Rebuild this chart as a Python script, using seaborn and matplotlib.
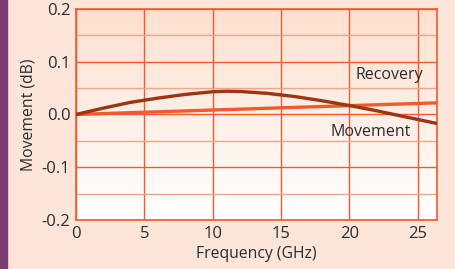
import numpy as np
import matplotlib
matplotlib.use("Agg")
import matplotlib.pyplot as plt
import seaborn as sns
from matplotlib.ticker import MultipleLocator
from matplotlib.patches import Rectangle

# values
freq_ghz = [0, 2, 4, 6, 8, 10, 11, 12, 14, 16, 18, 20, 22, 24, 26.4]
recovery = [0, 0.012, 0.023, 0.031, 0.038, 0.043, 0.044, 0.0435, 0.040, 0.034, 0.026, 0.017, 0.007, -0.004, -0.017]
movement = [0, 0.0017, 0.0034, 0.005, 0.0067, 0.0084, 0.0092, 0.010, 0.0117, 0.0134, 0.015, 0.0167, 0.0184, 0.020, 0.022]
x_ticks = [0, 5, 10, 15, 20, 25]
y_ticks = [-0.2, -0.1, 0.0, 0.1, 0.2]

sns.set_style("white")
plt.rcParams['font.family'] = ['Open Sans', 'DejaVu Sans']

grid_major = "#f25a30"
grid_minor = "#f6a488"
text_col = "#2b2b2b"

fig = plt.figure(figsize=(4.56, 2.69), dpi=100, facecolor="#fde5d9")
fig.patches.append(Rectangle((0, 0), 7 / 456, 1, transform=fig.transFigure,
                             color="#7a3c6e", zorder=0))
ax = fig.add_axes([0.1667, 0.182, 0.791, 0.785])

# peach-to-white gradient behind the grid
grad = np.linspace(0, 1, 256).reshape(-1, 1)
cmap = matplotlib.colors.LinearSegmentedColormap.from_list("bg", ["#fde0cf", "#ffffff"])
ax.imshow(grad, aspect="auto", cmap=cmap, extent=[0, 1, 0, 1],
          transform=ax.transAxes, zorder=0)

sns.lineplot(x=freq_ghz, y=movement, ax=ax, color="#f25a2c", lw=2.4, zorder=3)
sns.lineplot(x=freq_ghz, y=recovery, ax=ax, color="#9e3410", lw=2.4, zorder=4)

ax.set_xlim(0, 26.4)
ax.set_ylim(-0.2, 0.2)
ax.set_xticks(x_ticks)
ax.set_yticks(y_ticks)
ax.set_yticklabels(["-0.2", "-0.1", "0.0", "0.1", "0.2"])
ax.yaxis.set_minor_locator(MultipleLocator(0.05))
ax.grid(True, which="major", color=grid_major, lw=1.0, zorder=1)
ax.grid(True, which="minor", axis="y", color=grid_minor, lw=1.0, zorder=1)
ax.set_axisbelow(True)
for s in ax.spines.values():
    s.set_color(grid_major)
    s.set_linewidth(1.2)

ax.tick_params(axis="both", which="both", length=0, labelsize=12, colors=text_col, pad=4)
ax.set_xlabel("Frequency (GHz)", fontsize=11.3, color=text_col, labelpad=3)
ax.set_ylabel("Movement (dB)", fontsize=11.3, color=text_col, labelpad=4)

ax.text(22.9, 0.074, "Recovery", fontsize=11.5, color=text_col, ha="center", va="center", zorder=5)
ax.text(21.6, -0.034, "Movement", fontsize=11.5, color=text_col, ha="center", va="center", zorder=5)

fig.savefig("out.png", dpi=100, facecolor=fig.get_facecolor())
